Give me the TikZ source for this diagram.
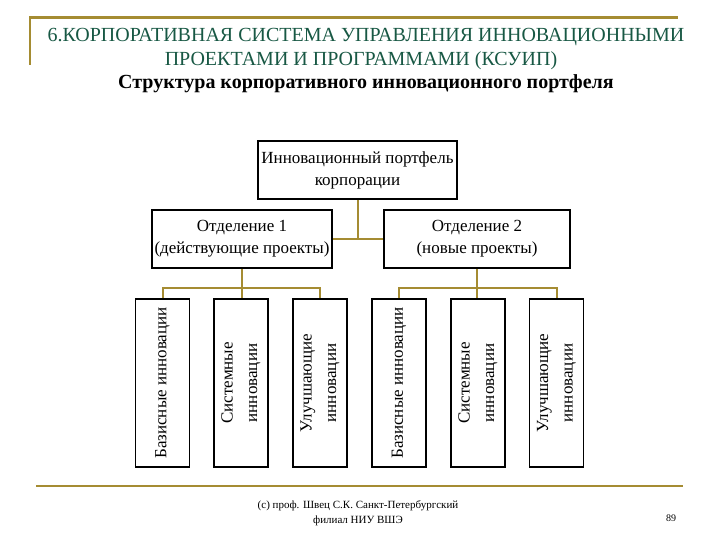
\documentclass[tikz,border=0pt]{standalone}
\usepackage{fontspec}
\setmainfont{Liberation Serif}
\definecolor{gold}{RGB}{165,140,50}
\definecolor{ttlgreen}{RGB}{24,88,68}
\begin{document}
\begin{tikzpicture}[x=1pt,y=-1pt,
  box/.style={draw=black,line width=1.8pt,inner sep=0pt,align=center,font=\fontsize{17}{22}\selectfont},
  leaf/.style={box,rotate=90,minimum width=168pt,minimum height=54pt,font=\fontsize{17}{24.5}\selectfont},
  conn/.style={draw=gold,line width=2pt},
  deco/.style={draw=gold,line width=2.4pt}]
\useasboundingbox (0,0) rectangle (720,540);
% decorations
\draw[deco] (30,65) -- (30,17.5) -- (678,17.5);
\draw[deco] (36,486) -- (683,486);
% title
\node[anchor=base,text=ttlgreen,font=\fontsize{20}{20}\selectfont] (t1) at (366,42) {6.КОРПОРАТИВНАЯ СИСТЕМА УПРАВЛЕНИЯ ИННОВАЦИОННЫМИ};
\node[anchor=base,text=ttlgreen,font=\fontsize{20}{20}\selectfont] (t2) at (361,65.5) {ПРОЕКТАМИ И ПРОГРАММАМИ (КСУИП)};
\node[anchor=base,font=\bfseries\fontsize{20}{20}\selectfont] (t3) at (366,89) {Структура корпоративного инновационного портфеля};
% boxes
\node[box,minimum width=199pt,minimum height=58pt] (top) at (357.5,170) {Инновационный портфель\\корпорации};
\node[box,minimum width=180pt,minimum height=58pt] (d1) at (242,239) {Отделение 1\\(действующие проекты)};
\node[box,minimum width=186pt,minimum height=58pt] (d2) at (477,239) {Отделение 2\\(новые проекты)};
\node[leaf] (l1) at (162.5,383) {Базисные инновации};
\node[leaf] (l2) at (241,383) {Системные\\инновации};
\node[leaf] (l3) at (320,383) {Улучшающие\\инновации};
\node[leaf] (l4) at (399,383) {Базисные инновации};
\node[leaf] (l5) at (478,383) {Системные\\инновации};
\node[leaf] (l6) at (556.5,383) {Улучшающие\\инновации};
% connectors
\draw[conn] (top.south) -- (top.south |- d1.east);
\draw[conn] (d1.east) -- (d2.west);
\draw[conn] (d1.south) -- ++(0,19) coordinate (b1);
\draw[conn] (l1.east) |- (b1) -| (l3.east);
\draw[conn] (b1) -- (b1 |- l2.east);
\draw[conn] (d2.south) -- ++(0,19) coordinate (b2);
\draw[conn] (l4.east) |- (b2) -| (l6.east);
\draw[conn] (b2) -- (b2 |- l5.east);
% footer
\node[anchor=base,font=\fontsize{11}{11}\selectfont] (f1) at (358,508) {(c) проф. Швец С.К. Санкт-Петербургский};
\node[anchor=base,font=\fontsize{11}{11}\selectfont] (f2) at (358,523) {филиал НИУ ВШЭ};
\node[anchor=base,font=\fontsize{10}{10}\selectfont] (pg) at (671,521) {89};
\end{tikzpicture}
\end{document}
